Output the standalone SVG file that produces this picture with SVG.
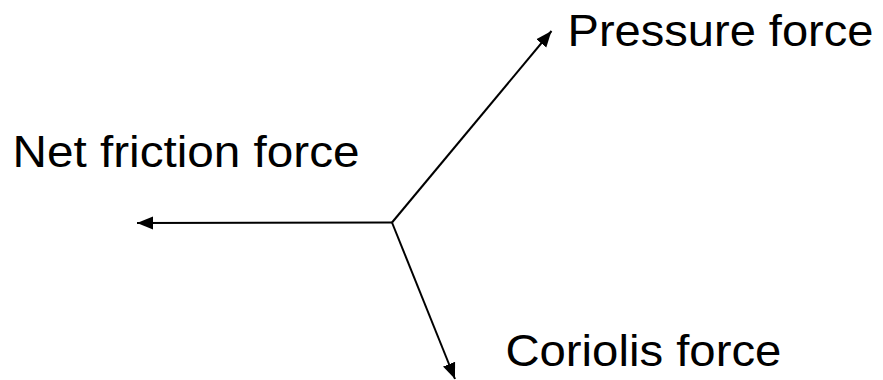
<svg xmlns="http://www.w3.org/2000/svg" width="883" height="380" viewBox="0 0 883 380">
  <style>
    .label { font-family: "Liberation Sans", Arial, sans-serif; font-size: 45px; fill: #000; }
    .vec { stroke: #000; stroke-width: 2; fill: none; marker-end: url(#head); }
  </style>
  <defs>
    <!-- solid triangular arrowhead, tip at the line end -->
    <marker id="head" markerUnits="userSpaceOnUse" markerWidth="18" markerHeight="16" refX="16" refY="8" orient="auto">
      <path d="M0,1.5 L16,8 L0,14.5 Z" fill="#000"/>
    </marker>
  </defs>
  <rect width="883" height="380" fill="#fff"/>
  <g id="connectors">
    <line class="vec" x1="392" y1="222.5" x2="137" y2="223"/>
    <line class="vec" x1="392" y1="222.5" x2="551.5" y2="31"/>
    <line class="vec" x1="392" y1="222.5" x2="455" y2="379"/>
  </g>
  <g id="pressure">
    <text class="label" x="567.5" y="46" textLength="306" lengthAdjust="spacingAndGlyphs">Pressure force</text>
  </g>
  <g id="friction">
    <text class="label" x="12.6" y="166.5" textLength="347" lengthAdjust="spacingAndGlyphs">Net friction force</text>
  </g>
  <g id="coriolis">
    <text class="label" x="505.4" y="366" textLength="276" lengthAdjust="spacingAndGlyphs">Coriolis force</text>
  </g>
</svg>
